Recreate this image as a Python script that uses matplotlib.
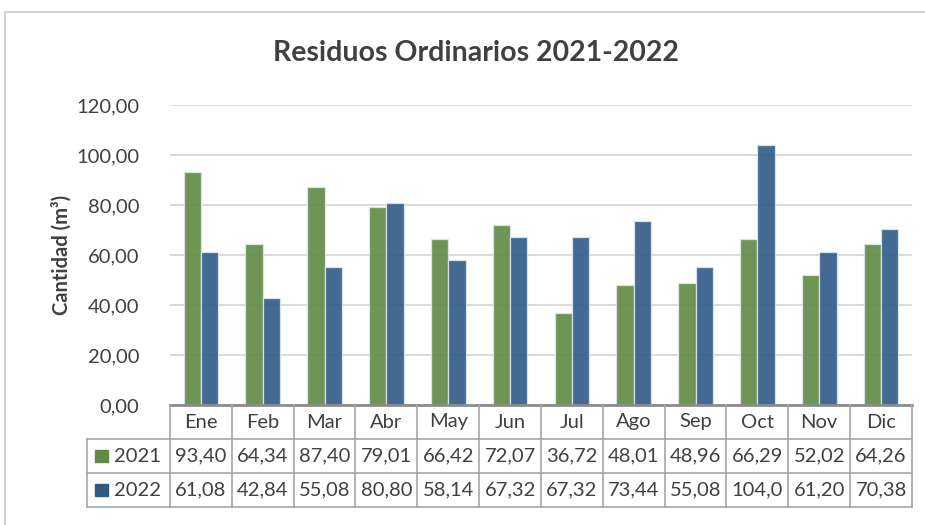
import matplotlib.pyplot as plt
import numpy as np
from matplotlib.patches import Rectangle

meses = ["Ene", "Feb", "Mar", "Abr", "May", "Jun", "Jul", "Ago", "Sep", "Oct", "Nov", "Dic"]
series = ["2021", "2022"]
vals_2021 = [93.40, 64.34, 87.40, 79.01, 66.42, 72.07, 36.72, 48.01, 48.96, 66.29, 52.02, 64.26]
vals_2022 = [61.08, 42.84, 55.08, 80.80, 58.14, 67.32, 67.32, 73.44, 55.08, 104.0, 61.20, 70.38]
colores = ["#5f8a43", "#2f5a87"]

plt.rcParams['font.family'] = ['Lato', 'DejaVu Sans']
W, H = 925, 525
fig = plt.figure(figsize=(W / 100, H / 100), dpi=100)


def px(x0, y0, x1, y1):
    # pixel box (top-left origin) -> figure fraction
    return [x0 / W, 1 - y1 / H, (x1 - x0) / W, (y1 - y0) / H]


# marco del gráfico
fig.patches.append(Rectangle((5 / W, -0.1), 1.2, 1 - 12 / H + 0.1, transform=fig.transFigure,
                             fill=False, edgecolor="#c8c8c8", lw=1.2))

ax = fig.add_axes(px(170, 105, 912, 405))
x = np.arange(len(meses))
bw = 0.28
for i, (vals, col) in enumerate(zip([vals_2021, vals_2022], colores)):
    ax.bar(x + (i - 0.5) * bw, vals, width=bw, color=col, alpha=0.9,
           edgecolor="#dde6ee", linewidth=0.9, zorder=3)

ax.set_xlim(-0.5, len(meses) - 0.5)
ax.set_ylim(0, 120)
ax.set_yticks(np.arange(0, 121, 20))
ax.set_yticklabels([f"{v:.2f}".replace(".", ",") for v in np.arange(0, 121, 20)],
                   fontsize=14.5, color="#404040")
ax.tick_params(axis="y", length=0, pad=22)
ax.set_xticks([])
ax.grid(axis="y", color="#d4d4d4", lw=1.2, zorder=4)
for s in ["top", "right", "left"]:
    ax.spines[s].set_visible(False)
ax.spines["bottom"].set_color("#8c8c8c")
ax.spines["bottom"].set_linewidth(2)
ax.spines["bottom"].set_zorder(5)
ax.set_ylabel("Cantidad (m³)", fontsize=14.5, fontweight="bold", color="#404040", labelpad=3)

fig.text(476 / W, 1 - 53 / H, "Residuos Ordinarios 2021-2022", ha="center", va="center",
         fontsize=20.5, fontweight="bold", color="#404040")

# tabla de datos bajo el eje
leg_w = 83 / (742 / len(meses))
tab = fig.add_axes(px(87, 405, 912, 507))
tab.set_xlim(-0.5 - leg_w, len(meses) - 0.5)
tab.set_ylim(3, 0)
tab.axis("off")
lc = "#a6a6a6"
edges = np.arange(len(meses) + 1) - 0.5
for e in edges:
    tab.plot([e, e], [0, 3], color=lc, lw=1.2, clip_on=False)
tab.plot([-0.5 - leg_w] * 2, [1, 3], color=lc, lw=1.2, clip_on=False)
for yy in [1, 2, 3]:
    tab.plot([-0.5 - leg_w, len(meses) - 0.5], [yy, yy], color=lc, lw=1.2, clip_on=False)

fs = 14.5
for j, m in enumerate(meses):
    tab.text(j, 0.5, m, ha="center", va="center", fontsize=fs, color="#404040")
for r, (name, vals, col) in enumerate(zip(series, [vals_2021, vals_2022], colores)):
    yc = 1.5 + r
    tab.add_patch(Rectangle((-0.5 - leg_w + 0.13, yc - 0.18), 0.21, 0.36,
                            transform=tab.transData, color=col, clip_on=False))
    tab.text(-0.5 - leg_w + 0.43, yc, name, ha="left", va="center", fontsize=fs, color="#404040")
    for j, v in enumerate(vals):
        tab.text(j, yc, f"{v:.2f}".replace(".", ",")[:5], ha="center", va="center",
                 fontsize=fs, color="#404040")

fig.savefig("out.png", dpi=100)
